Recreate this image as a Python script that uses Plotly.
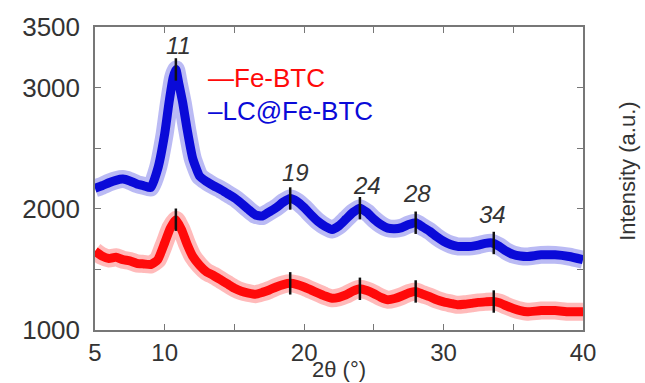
import plotly.graph_objects as go

# --- data ---
fe_x = [5, 5.5, 6, 6.5, 7, 7.5, 8, 8.5, 9, 9.5, 10, 10.4, 10.8, 11.2, 11.6, 12, 12.5, 13, 13.5, 14,
        14.5, 15, 15.5, 16, 16.5, 17, 17.5, 18, 18.5, 19, 19.5, 20, 20.5, 21, 21.5, 22, 22.5, 23,
        23.5, 24, 24.5, 25, 25.5, 26, 26.5, 27, 27.5, 28, 28.5, 29, 29.5, 30, 30.5, 31, 31.5, 32,
        32.5, 33, 33.5, 34, 34.5, 35, 35.5, 36, 37, 38, 39, 40]
fe_y = [1650, 1610, 1590, 1600, 1580, 1570, 1550, 1545, 1540, 1580, 1720, 1840, 1910, 1830, 1710,
        1610, 1535, 1480, 1450, 1415, 1380, 1345, 1320, 1305, 1295, 1310, 1330, 1355, 1375, 1385,
        1375, 1355, 1330, 1305, 1280, 1262, 1270, 1290, 1320, 1340, 1325, 1300, 1270, 1250, 1260,
        1280, 1305, 1318, 1295, 1275, 1250, 1232, 1220, 1208, 1212, 1220, 1228, 1232, 1235, 1225,
        1200, 1178, 1160, 1150, 1160, 1160, 1150, 1150]

lc_x = [5, 5.5, 6, 6.5, 7, 7.5, 8, 8.5, 9, 9.5, 10, 10.3, 10.6, 10.8, 11.0, 11.3, 11.6, 12, 12.5,
        13, 13.5, 14, 14.5, 15, 15.5, 16, 16.5, 17, 17.5, 18, 18.5, 19, 19.5, 20, 20.5, 21, 21.5,
        22, 22.5, 23, 23.5, 24, 24.5, 25, 25.5, 26, 26.5, 27, 27.5, 28, 28.5, 29, 29.5, 30, 30.5,
        31, 31.5, 32, 32.5, 33, 33.5, 34, 34.5, 35, 35.5, 36, 37, 38, 39, 40]
lc_y = [2170, 2190, 2215, 2235, 2245, 2230, 2205, 2190, 2175, 2330, 2620, 2870, 3080, 3150, 3040,
        2870, 2660, 2420, 2270, 2225, 2190, 2160, 2125, 2090, 2045, 1995, 1950, 1940, 1975, 2010,
        2055, 2085, 2060, 2010, 1950, 1895, 1855, 1830, 1860, 1915, 1970, 2005, 1970, 1915, 1870,
        1840, 1835, 1845, 1870, 1885, 1850, 1815, 1770, 1732, 1705, 1690, 1688, 1690, 1700, 1715,
        1718, 1690, 1650, 1622, 1610, 1606, 1620, 1620, 1606, 1580]

peak_x = [10.8, 19, 24, 28, 33.6]
fe_peak_y = [1910, 1385, 1340, 1318, 1235]
lc_peak_y = [3150, 2085, 2005, 1885, 1718]
peak_labels = ["11", "19", "24", "28", "34"]
peak_label_x = [11.0, 19.4, 24.5, 28.1, 33.5]
peak_label_y = [3351, 2296, 2196, 2130, 1955]

x_ticks = [5, 10, 15, 20, 25, 30, 35, 40]
x_ticktext = ["5", "10", "", "20", "", "30", "", "40"]
y_ticks = [1000, 1500, 2000, 2500, 3000, 3500]
y_ticktext = ["1000", "", "2000", "", "3000", "3500"]

RED = "#ff0a0a"
BLUE = "#0a0ad8"
FONT = "Liberation Sans, Arial, sans-serif"
TXT = "#333333"

fig = go.Figure()
for xs, ys, col in [(fe_x, fe_y, RED), (lc_x, lc_y, BLUE)]:
    fig.add_trace(go.Scatter(x=xs, y=ys, mode="lines",
                             line=dict(color=col, width=18, shape="spline", smoothing=0.5),
                             opacity=0.28, showlegend=False, hoverinfo="skip"))
    fig.add_trace(go.Scatter(x=xs, y=ys, mode="lines",
                             line=dict(color=col, width=9, shape="spline", smoothing=0.5),
                             showlegend=False))

for ys in (fe_peak_y, lc_peak_y):
    fig.add_trace(go.Scatter(x=peak_x, y=ys, mode="markers",
                             marker=dict(symbol="line-ns", size=16, line=dict(color="#111111", width=2.5)),
                             showlegend=False, hoverinfo="skip"))

for t, px, py in zip(peak_labels, peak_label_x, peak_label_y):
    fig.add_annotation(x=px, y=py, text="<i>" + t + "</i>", showarrow=False,
                       font=dict(family=FONT, size=24, color=TXT))

fig.add_annotation(xref="paper", yref="paper", x=0.228, y=0.832, xanchor="left", yanchor="middle",
                   text="\u2014Fe-BTC", showarrow=False, font=dict(family=FONT, size=26, color=RED))
fig.add_annotation(xref="paper", yref="paper", x=0.228, y=0.722, xanchor="left", yanchor="middle",
                   text="\u2013LC@Fe-BTC", showarrow=False, font=dict(family=FONT, size=26, color=BLUE))

fig.add_annotation(xref="paper", yref="paper", x=1.092, y=0.525, xanchor="center", yanchor="middle",
                   text="Intensity (a.u.)", textangle=-90, showarrow=False,
                   font=dict(family="Liberation Sans Narrow, Liberation Sans, sans-serif", size=22, color=TXT))

# x-axis title placed below the tick labels
fig.add_annotation(xref="paper", yref="paper", x=0.5, y=-0.132, xanchor="center", yanchor="middle",
                   text="2\u03b8 (\u00b0)", showarrow=False, font=dict(family=FONT, size=22, color=TXT))

axis_common = dict(showgrid=False, zeroline=False, showline=True, linecolor="#777777", linewidth=1.5,
                   mirror="ticks", ticks="inside", ticklen=6, tickwidth=1.3, tickcolor="#777777",
                   automargin=False)

fig.update_xaxes(range=[5, 40], tickvals=x_ticks, ticktext=x_ticktext,
                 tickfont=dict(family=FONT, size=24, color=TXT), **axis_common)
fig.update_yaxes(range=[1000, 3500], tickvals=y_ticks, ticktext=y_ticktext, ticklabelstandoff=8,
                 tickfont=dict(family=FONT, size=26, color=TXT), **axis_common)

fig.update_layout(width=645, height=383, margin=dict(l=95, r=62, t=27, b=53),
                  plot_bgcolor="white", paper_bgcolor="white", showlegend=False)

fig.write_html("out.html")
